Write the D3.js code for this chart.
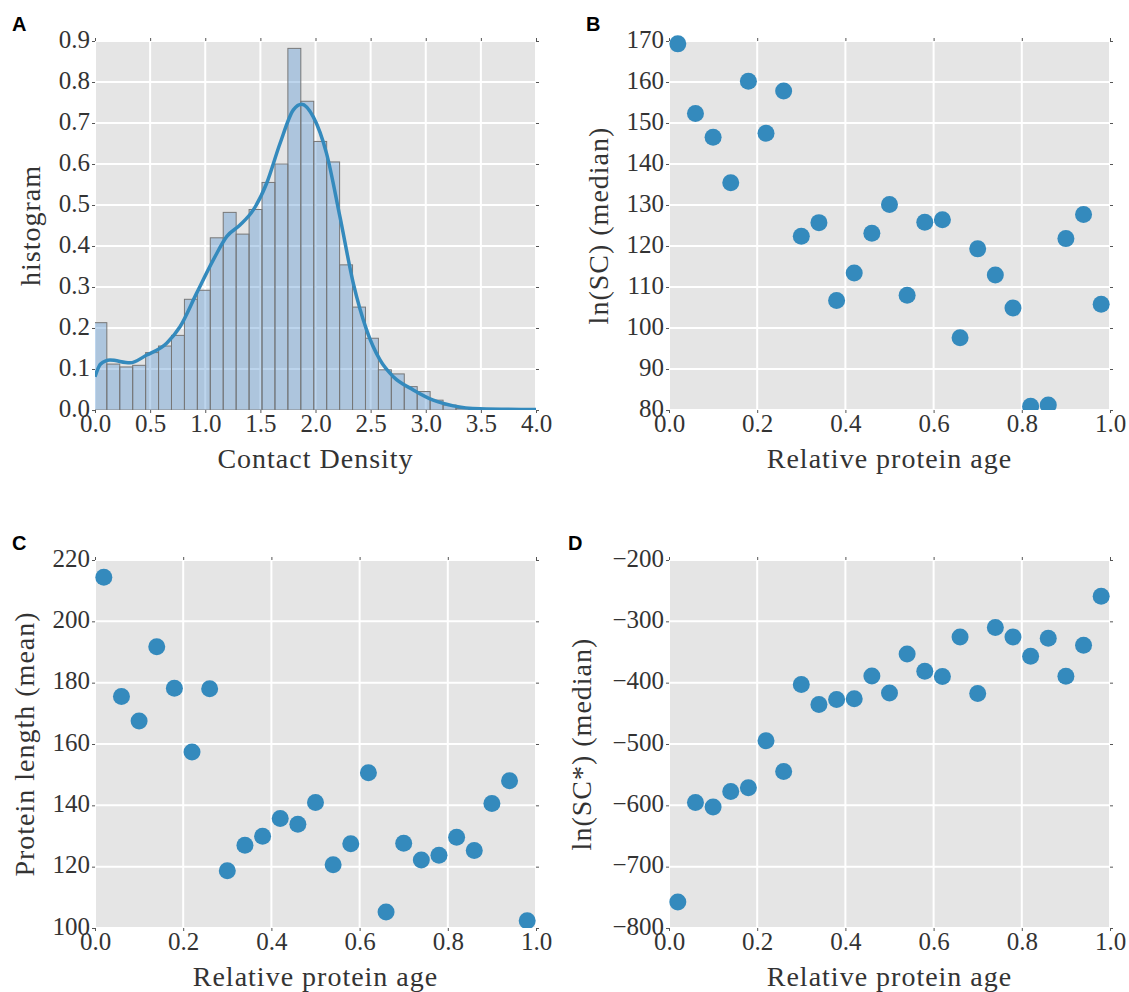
<!DOCTYPE html>
<html lang="en">
<head>
<meta charset="utf-8">
<title>Contact density and protein age</title>
<script src="https://d3js.org/d3.v7.min.js"></script>
<style>
  body { margin: 0; background: #fff; }
  svg text { font-family: "Liberation Serif", "DejaVu Serif", serif; fill: #333; }
  .tick text { font-size: 25px; }
  .axis-label { font-size: 28px; letter-spacing: 1px; }
  .panel-letter { font-family: "Liberation Sans", Arial, sans-serif !important; font-weight: bold; font-size: 20px; fill: #000 !important; }
</style>
</head>
<body>
<div id="chart"></div>
<script>
// ---- data ----
// panel A: histogram of contact density (30 bins) + KDE curve
const histBinStart = -0.01;
const histBinWidth = 0.1173;
const histHeights = [0.213, 0.112, 0.105, 0.109, 0.140, 0.156, 0.182, 0.270, 0.292, 0.420,
                     0.482, 0.429, 0.489, 0.555, 0.600, 0.882, 0.753, 0.655, 0.605, 0.354,
                     0.251, 0.175, 0.098, 0.088, 0.057, 0.045, 0.024, 0.012, 0.004, 0.002];
const kdeX = [0, 0.05, 0.136, 0.317, 0.469, 0.65, 0.771, 0.922, 1.073, 1.194, 1.315, 1.436,
              1.557, 1.678, 1.799, 1.875, 1.98, 2.10, 2.222, 2.343, 2.464, 2.585, 2.706,
              2.887, 3.068, 3.25, 3.49, 4.0];
const kdeY = [0.081, 0.112, 0.122, 0.115, 0.134, 0.163, 0.203, 0.285, 0.366, 0.423, 0.451, 0.488,
              0.553, 0.650, 0.732, 0.746, 0.715, 0.626, 0.471, 0.309, 0.195, 0.122, 0.081,
              0.049, 0.024, 0.010, 0.003, 0.001];

// panels B-D: 25 age bins
const proteinAge = [0.02, 0.06, 0.10, 0.14, 0.18, 0.22, 0.26, 0.30, 0.34, 0.38, 0.42, 0.46, 0.50,
                    0.54, 0.58, 0.62, 0.66, 0.70, 0.74, 0.78, 0.82, 0.86, 0.90, 0.94, 0.98];
const lnSCMedian = [169.3, 152.3, 146.5, 135.4, 160.2, 147.5, 157.8, 122.4, 125.7, 106.7, 113.4, 123.1, 130.1,
                    108.0, 125.8, 126.4, 97.6, 119.3, 112.9, 104.9, 80.9, 81.2, 121.8, 127.7, 105.8];
const lengthMean = [214.4, 175.5, 167.5, 191.7, 178.2, 157.4, 178.0, 118.7, 127.0, 129.9, 135.7, 133.8, 140.9,
                    120.6, 127.5, 150.6, 105.2, 127.6, 122.2, 123.7, 129.6, 125.3, 140.6, 148.0, 102.4];
const lnSCStarMedian = [-757.6, -595.3, -602.9, -577.4, -571.4, -494.8, -544.8, -403.1, -435.7, -427.5, -426.4,
                        -389.0, -416.7, -353.1, -381.4, -390.0, -325.4, -417.7, -310.2, -325.4, -356.9,
                        -327.6, -389.5, -339.0, -259.2];

// tick values
const densityTicks = [0, 0.5, 1.0, 1.5, 2.0, 2.5, 3.0, 3.5, 4.0];
const histTicks = [0, 0.1, 0.2, 0.3, 0.4, 0.5, 0.6, 0.7, 0.8, 0.9];
const ageTicks = [0, 0.2, 0.4, 0.6, 0.8, 1.0];
const scTicks = [80, 90, 100, 110, 120, 130, 140, 150, 160, 170];
const lengthTicks = [100, 120, 140, 160, 180, 200, 220];
const scStarTicks = [-800, -700, -600, -500, -400, -300, -200];

const w = 1129, h = 992;
const blue = "#348ABD";

const svg = d3.select("#chart").append("svg")
    .attr("width", w)
    .attr("height", h);

function makePanel(opt) {
    const x = d3.scaleLinear().domain(opt.xDomain).range([opt.left, opt.right]);
    const y = d3.scaleLinear().domain(opt.yDomain).range([opt.bottom, opt.top]);
    const g = svg.append("g");

    g.append("rect")
        .attr("x", opt.left).attr("y", opt.top)
        .attr("width", opt.right - opt.left).attr("height", opt.bottom - opt.top)
        .attr("fill", "#E5E5E5");

    // grid
    g.selectAll(".vgrid").data(opt.xTicks).enter().append("line")
        .attr("x1", d => x(d)).attr("x2", d => x(d))
        .attr("y1", opt.top).attr("y2", opt.bottom)
        .attr("stroke", "#fff").attr("stroke-width", 2);
    g.selectAll(".hgrid").data(opt.yTicks).enter().append("line")
        .attr("y1", d => y(d)).attr("y2", d => y(d))
        .attr("x1", opt.left).attr("x2", opt.right)
        .attr("stroke", "#fff").attr("stroke-width", 2);

    // small ticks on all four sides
    const styleAxis = sel => {
        sel.select(".domain").remove();
        sel.selectAll(".tick line").attr("stroke", "#555").attr("stroke-width", 1);
    };
    g.append("g").attr("transform", `translate(0,${opt.bottom})`)
        .call(d3.axisBottom(x).tickValues(opt.xTicks).tickFormat(opt.xFormat).tickSize(3).tickPadding(1))
        .call(styleAxis)
        .attr("font-family", null).attr("font-size", null);
    g.append("g").attr("transform", `translate(${opt.left},0)`)
        .call(d3.axisLeft(y).tickValues(opt.yTicks).tickFormat(opt.yFormat).tickSize(3).tickPadding(2))
        .call(styleAxis)
        .attr("font-family", null).attr("font-size", null)
        .selectAll("text").attr("dy", "0.24em");
    g.append("g").attr("transform", `translate(0,${opt.top})`)
        .call(d3.axisTop(x).tickValues(opt.xTicks).tickFormat("").tickSize(3))
        .call(styleAxis);
    g.append("g").attr("transform", `translate(${opt.right},0)`)
        .call(d3.axisRight(y).tickValues(opt.yTicks).tickFormat("").tickSize(3))
        .call(styleAxis);

    // labels
    g.append("text").attr("class", "axis-label")
        .attr("x", (opt.left + opt.right) / 2).attr("y", opt.bottom + 58)
        .attr("text-anchor", "middle").text(opt.xLabel);
    g.append("text").attr("class", "axis-label")
        .attr("transform", `translate(${opt.yLabelX},${(opt.top + opt.bottom) / 2}) rotate(-90)`)
        .attr("text-anchor", "middle").text(opt.yLabel);
    svg.append("text").attr("class", "panel-letter")
        .attr("x", opt.letterX).attr("y", opt.top - 10).text(opt.letter);

    // clip marks at the bottom/sides of the axes
    const clipId = "clip" + opt.letter;
    svg.append("clipPath").attr("id", clipId).append("rect")
        .attr("x", opt.left).attr("y", opt.top - 30)
        .attr("width", opt.right - opt.left).attr("height", opt.bottom - opt.top + 30);
    const plot = svg.append("g").attr("clip-path", `url(#${clipId})`);
    return { x, y, plot };
}

// ---- panel A ----
const A = makePanel({
    letter: "A", letterX: 12,
    left: 95, right: 536, top: 41, bottom: 410,
    xDomain: [0, 4], yDomain: [0, 0.9],
    xTicks: densityTicks, yTicks: histTicks,
    xFormat: d3.format(".1f"), yFormat: d3.format(".1f"),
    xLabel: "Contact Density", yLabel: "histogram", yLabelX: 40
});
A.plot.selectAll("rect.bar").data(histHeights).enter().append("rect")
    .attr("x", (d, i) => A.x(histBinStart + i * histBinWidth))
    .attr("width", (d, i) => A.x(histBinStart + (i + 1) * histBinWidth) - A.x(histBinStart + i * histBinWidth))
    .attr("y", d => A.y(d))
    .attr("height", d => A.y(0) - A.y(d))
    .attr("fill", "rgb(89,151,209)").attr("fill-opacity", 0.4)
    .attr("stroke", "#777").attr("stroke-width", 1);
const kde = d3.line().x(d => A.x(d[0])).y(d => A.y(d[1])).curve(d3.curveMonotoneX);
A.plot.append("path")
    .datum(kdeX.map((v, i) => [v, kdeY[i]]))
    .attr("d", kde)
    .attr("fill", "none").attr("stroke", blue).attr("stroke-width", 3.5);

// ---- scatter panels ----
function scatter(P, values) {
    P.plot.selectAll("circle").data(values).enter().append("circle")
        .attr("cx", (d, i) => P.x(proteinAge[i]))
        .attr("cy", d => P.y(d))
        .attr("r", 8.5)
        .attr("fill", blue);
}

const B = makePanel({
    letter: "B", letterX: 586,
    left: 669, right: 1110, top: 41, bottom: 410,
    xDomain: [0, 1], yDomain: [80, 170],
    xTicks: ageTicks, yTicks: scTicks,
    xFormat: d3.format(".1f"), yFormat: d3.format("d"),
    xLabel: "Relative protein age", yLabel: "ln(SC) (median)", yLabelX: 608
});
scatter(B, lnSCMedian);

const C = makePanel({
    letter: "C", letterX: 12,
    left: 95, right: 536, top: 560, bottom: 928,
    xDomain: [0, 1], yDomain: [100, 220],
    xTicks: ageTicks, yTicks: lengthTicks,
    xFormat: d3.format(".1f"), yFormat: d3.format("d"),
    xLabel: "Relative protein age", yLabel: "Protein length (mean)", yLabelX: 34
});
scatter(C, lengthMean);

const D = makePanel({
    letter: "D", letterX: 568,
    left: 669, right: 1110, top: 560, bottom: 928,
    xDomain: [0, 1], yDomain: [-800, -200],
    xTicks: ageTicks, yTicks: scStarTicks,
    xFormat: d3.format(".1f"), yFormat: d3.format("d"),
    xLabel: "Relative protein age", yLabel: "ln(SC*) (median)", yLabelX: 591
});
scatter(D, lnSCStarMedian);
</script>
</body>
</html>
